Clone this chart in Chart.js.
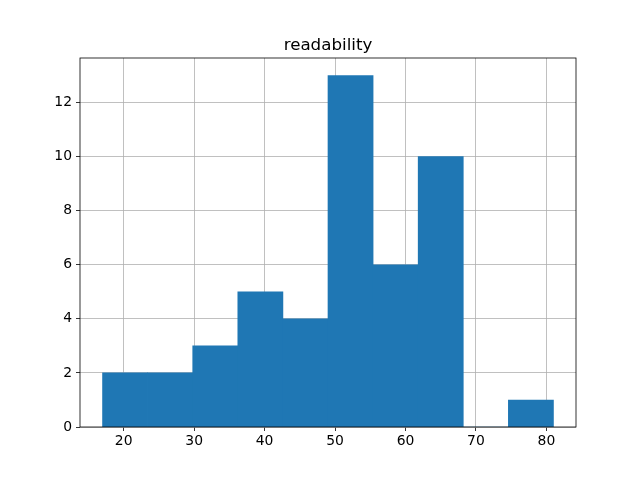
<!DOCTYPE html>
<html>
<head>
<meta charset="utf-8">
<script src="https://cdn.jsdelivr.net/npm/chart.js@4"></script>
<style>
  html, body { margin: 0; padding: 0; background: #fff; }
  #wrap { width: 640px; height: 480px; }
</style>
</head>
<body>
<div id="wrap"><canvas id="c" width="640" height="480"></canvas></div>
<script>
// histogram of "readability", 10 bins between 17 and 81
const binEdges = [17, 23.4, 29.8, 36.2, 42.6, 49, 55.4, 61.8, 68.2, 74.6, 81];
const counts = [2, 2, 3, 5, 4, 13, 6, 10, 0, 1];
const xTicks = [20, 30, 40, 50, 60, 70, 80];
const yTicks = [0, 2, 4, 6, 8, 10, 12];
const titleText = 'readability';

const FONT = 'DejaVu Sans';
const barData = counts.map((c, i) => ({ x: (binEdges[i] + binEdges[i + 1]) / 2, y: c }));

// box round the plot, like the matplotlib spines, and the title centred over it
const frame = {
  id: 'frame',
  afterDraw(chart) {
    const { ctx, chartArea: a } = chart;
    ctx.save();
    ctx.strokeStyle = '#000';
    ctx.lineWidth = 0.8;
    ctx.strokeRect(a.left, a.top, a.right - a.left, a.bottom - a.top);
    ctx.fillStyle = '#000';
    ctx.font = '16.7px "' + FONT + '"';
    ctx.textAlign = 'center';
    ctx.textBaseline = 'alphabetic';
    ctx.fillText(titleText, (a.left + a.right) / 2, a.top - 8);
    ctx.restore();
  }
};

new Chart(document.getElementById('c'), {
  type: 'bar',
  data: {
    datasets: [{
      data: barData,
      backgroundColor: '#1f77b4',
      borderWidth: 0,
      barPercentage: 1,
      categoryPercentage: 1,
      grouped: false
    }]
  },
  options: {
    responsive: false,
    animation: false,
    layout: { padding: { top: 58, right: 64, bottom: 0, left: 0 } },
    plugins: {
      legend: { display: false },
      tooltip: { enabled: false },
      title: { display: false }
    },
    scales: {
      x: {
        type: 'linear',
        min: 13.8, max: 84.2,
        offset: false,
        z: 1,
        grid: { offset: false, color: '#b0b0b0', lineWidth: 0.8, tickColor: '#000', tickLength: 4 },
        border: { display: false },
        ticks: { color: '#000', font: { family: FONT, size: 13.9 }, padding: 2, maxRotation: 0 },
        afterBuildTicks: s => { s.ticks = xTicks.map(v => ({ value: v })); },
        afterFit: s => { s.height = 53; }
      },
      y: {
        min: 0, max: 13.65,
        z: 1,
        grid: { color: '#b0b0b0', lineWidth: 0.8, tickColor: '#000', tickLength: 4 },
        border: { display: false },
        ticks: { color: '#000', font: { family: FONT, size: 13.9 }, padding: 4 },
        afterBuildTicks: s => { s.ticks = yTicks.map(v => ({ value: v })); },
        afterFit: s => { s.width = 80; }
      }
    }
  },
  plugins: [frame]
});
</script>
</body>
</html>
